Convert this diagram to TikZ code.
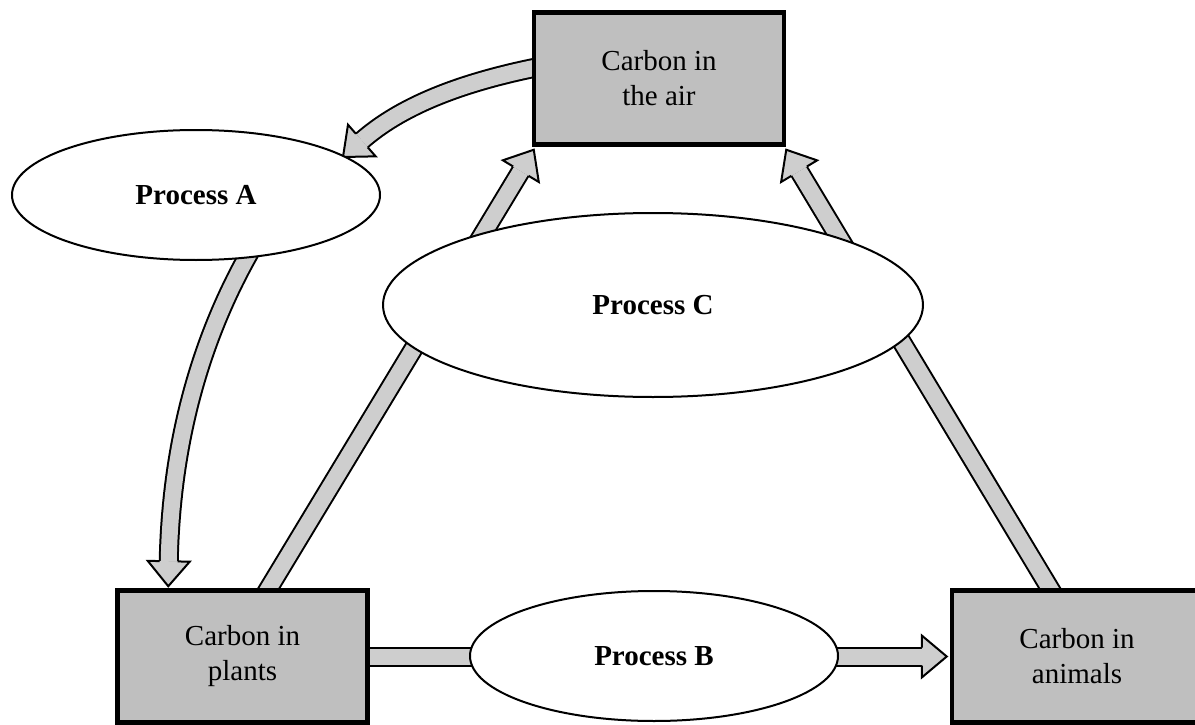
\documentclass[tikz,border=0pt]{standalone}
\usepackage{fontspec}
\setmainfont{Liberation Serif}
\usetikzlibrary{shapes.geometric,calc}
\pgfdeclarelayer{bg}
\pgfsetlayers{bg,main}
\definecolor{boxgray}{RGB}{191,191,191}
\definecolor{arrowgray}{RGB}{206,206,206}
\tikzset{
  store/.style={draw=black, line width=4.5pt, fill=boxgray, minimum width=250pt,
    minimum height=132pt, align=center, inner sep=0pt,
    font=\fontsize{29}{35}\selectfont},
  proc/.style={ellipse, draw=black, line width=2pt, fill=white, inner sep=0pt,
    font=\fontsize{29}{35}\selectfont\bfseries},
  shaft/.style={line width=2pt, double=arrowgray, double distance=16pt},
  headline/.style={draw=black, line width=2pt, line join=miter},
}
\newcommand{\headat}[2]{\coordinate (hb) at ($(#1)!25pt!(#2)$);}
\newcommand{\blockhead}[1]{%
  \fill[arrowgray] ($(hb)!9pt!90:(#1)$) -- ($(hb)!21pt!90:(#1)$) -- (#1)
    -- ($(hb)!21pt!-90:(#1)$) -- ($(hb)!9pt!-90:(#1)$) -- cycle;
  \draw[headline] ($(hb)!9pt!90:(#1)$) -- ($(hb)!21pt!90:(#1)$) -- (#1)
    -- ($(hb)!21pt!-90:(#1)$) -- ($(hb)!9pt!-90:(#1)$);
}
\begin{document}
\begin{tikzpicture}[x=1pt,y=-1pt]
\useasboundingbox (0,0) rectangle (1195,725);
\node[store] (air) at (659,78.5) {Carbon in\\the air};
\node[store] (plants) at (242.5,656.5) {Carbon in\\plants};
\node[store] (animals) at (1077,656.5) {Carbon in\\animals};
\node[proc, minimum width=368pt, minimum height=130pt] (pa) at (196,195) {Process A};
\node[proc, minimum width=540pt, minimum height=184pt] (pc) at (653,305) {Process C};
\node[proc, minimum width=368pt, minimum height=130pt] (pb) at (654,656) {Process B};
\begin{pgfonlayer}{bg}
  % air -> Process A
  \coordinate (a1s) at ($(air.west)+(12,-12.5)$);
  \coordinate (a1c1) at (456,83);
  \coordinate (a1c2) at (399,108);
  \coordinate (a1t) at (343,157);
  \headat{a1t}{a1c2}
  \draw[shaft] (a1s) .. controls (a1c1) and (a1c2) .. (hb);
  \blockhead{a1t}
  % Process A -> plants
  \coordinate (a2s) at ($(pa.south)+(58,-16)$);
  \coordinate (a2c1) at (199,339);
  \coordinate (a2c2) at (171,446);
  \coordinate (a2t) at ($(plants.north west)+(53,-2)$);
  \headat{a2t}{a2c2}
  \draw[shaft] (a2s) .. controls (a2c1) and (a2c2) .. (hb);
  \blockhead{a2t}
  % plants -> air
  \coordinate (a3s) at ($(plants.north west)+(147.5,10)$);
  \coordinate (a3t) at ($(air.south west)+(2,3)$);
  \headat{a3t}{a3s}
  \draw[shaft] (a3s) -- (hb);
  \blockhead{a3t}
  % animals -> air
  \coordinate (a4s) at ($(animals.north west)+(106,10)$);
  \coordinate (a4t) at ($(air.south east)+(0,3)$);
  \headat{a4t}{a4s}
  \draw[shaft] (a4s) -- (hb);
  \blockhead{a4t}
  % plants -> animals
  \coordinate (a5t) at ($(animals.west)+(-3,0)$);
  \headat{a5t}{plants.center}
  \draw[shaft] (plants.center) -- (hb);
  \blockhead{a5t}
\end{pgfonlayer}
\end{tikzpicture}
\end{document}
